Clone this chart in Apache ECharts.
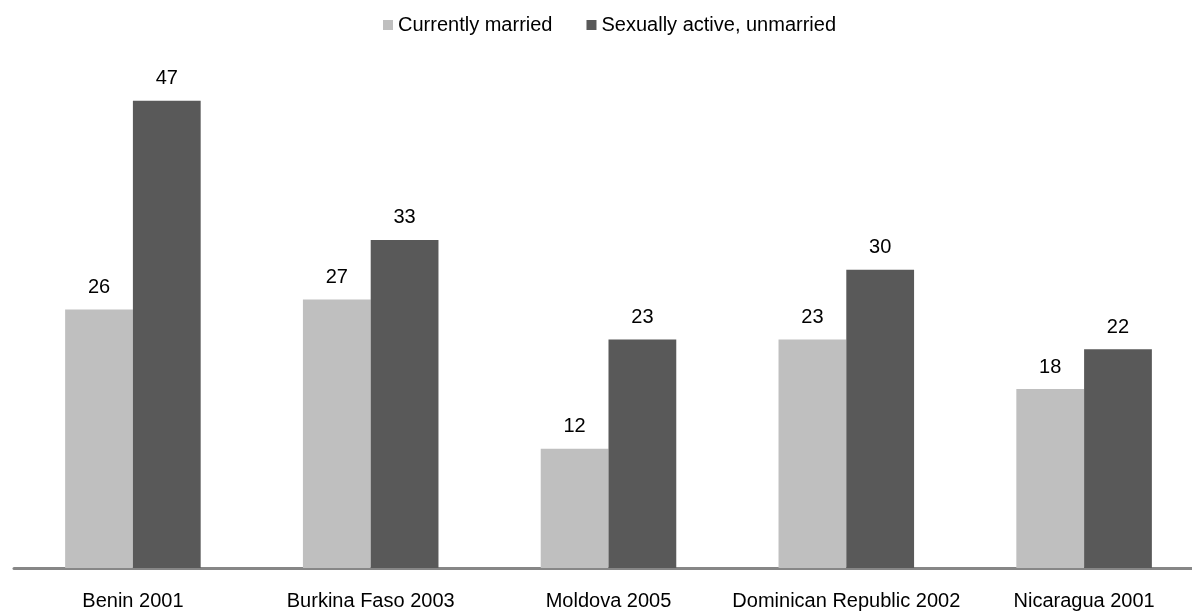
<!DOCTYPE html>
<html>
<head>
<meta charset="utf-8">
<script src="https://cdn.jsdelivr.net/npm/echarts@6/dist/echarts.min.js"></script>
<style>
  html, body { margin: 0; padding: 0; background: #ffffff; }
  #chart { width: 1192px; height: 613px; }
</style>
</head>
<body>
<div id="chart"></div>
<script>
// Survey groups and percentages per group
const categories = ['Benin 2001', 'Burkina Faso 2003', 'Moldova 2005', 'Dominican Republic 2002', 'Nicaragua 2001'];
const seriesNames = ['Currently married', 'Sexually active, unmarried'];
const currentlyMarried = [26, 27, 12, 23, 18];
const sexuallyActiveUnmarried = [47, 33, 23, 30, 22];

const FONT = '"Liberation Sans", Arial, sans-serif';

const chart = echarts.init(document.getElementById('chart'), null, { renderer: 'canvas' });

const labelStyle = {
  show: true,
  position: 'top',
  distance: 12,
  color: '#000000',
  fontFamily: FONT,
  fontSize: 20
};

chart.setOption({
  animation: false,
  backgroundColor: '#ffffff',
  legend: {
    left: 378,
    top: 10,
    itemWidth: 10,
    itemHeight: 10,
    itemGap: 34,
    icon: 'rect',
    textStyle: { color: '#000000', fontFamily: FONT, fontSize: 20 },
    data: seriesNames
  },
  // plot area runs slightly past the right edge of the canvas
  grid: {
    left: 14, top: 71, width: 1189, height: 497,
    containLabel: false,
    outerBoundsMode: 'none'
  },
  xAxis: {
    type: 'category',
    data: categories,
    axisLine: { show: true, lineStyle: { color: '#878787', width: 3 } },
    axisTick: { show: false },
    axisLabel: { color: '#000000', fontFamily: FONT, fontSize: 20, margin: 23, interval: 0 }
  },
  yAxis: {
    type: 'value',
    min: 0,
    max: 50,
    show: false,
    splitLine: { show: false }
  },
  series: [
    {
      name: seriesNames[0],
      type: 'bar',
      data: currentlyMarried,
      barGap: '0%',
      barCategoryGap: '43%',
      itemStyle: { color: '#BFBFBF' },
      label: labelStyle
    },
    {
      name: seriesNames[1],
      type: 'bar',
      data: sexuallyActiveUnmarried,
      barGap: '0%',
      barCategoryGap: '43%',
      itemStyle: { color: '#595959' },
      label: labelStyle
    }
  ]
});
</script>
</body>
</html>
